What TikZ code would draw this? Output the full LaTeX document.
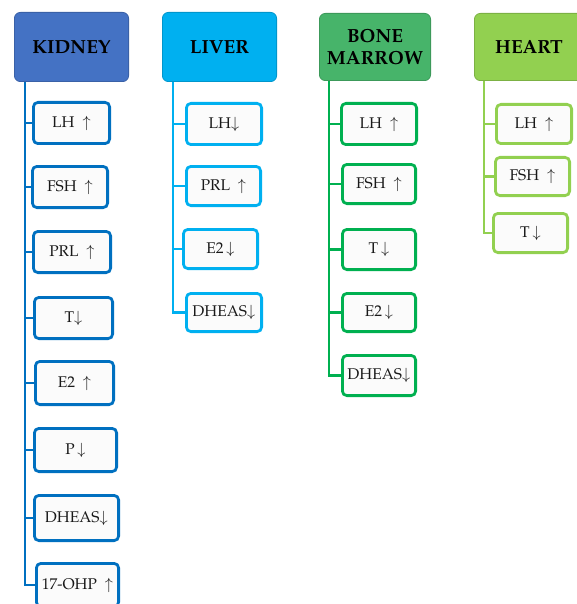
\documentclass[tikz,border=0pt]{standalone}
\usepackage[T1]{fontenc}
\usepackage{mathpazo}
\definecolor{kid}{HTML}{0070C0}
\definecolor{kidh}{HTML}{4472C4}
\definecolor{liv}{HTML}{00B0F0}
\definecolor{livh}{HTML}{00B0F0}
\definecolor{bm}{HTML}{00B050}
\definecolor{bmh}{HTML}{47B46A}
\definecolor{hrt}{HTML}{92D050}
\definecolor{hrth}{HTML}{92D050}
\definecolor{boxfill}{HTML}{FBFBFB}
\tikzset{
  hdr/.style={fill=#1, draw=#1!85!black, line width=0.8pt, rounded corners=6pt, inner sep=0pt,
    font=\fontsize{19}{22}\selectfont\bfseries, text=black, align=center},
  item/.style={draw=#1, line width=2.8pt, fill=boxfill, rounded corners=4.5pt, inner sep=0pt,
    font=\fontsize{15.5}{18}\selectfont, text=black!90},
  spine/.style={draw=#1, line width=2.8pt},
}
\newcommand{\ibox}[7]{\node[item=#2, minimum width={#4pt-#3pt-2.8pt}, minimum height={#6pt-#5pt-2.8pt}] (#1) at ({(#3+#4)/2},{(#5+#6)/2}) {#7};}
\newcommand{\hdrbox}[7]{\node[hdr=#2, minimum width={#4pt-#3pt-0.8pt}, minimum height={#6pt-#5pt-0.8pt}] (#1) at ({(#3+#4)/2},{(#5+#6)/2}) {#7};}
\begin{document}
\begin{tikzpicture}[x=1pt,y=-1pt]
\useasboundingbox (0,0) rectangle (577,604);
\clip (0,0) rectangle (577,604);
% headers
\hdrbox{kh}{kidh}{14}{129}{12}{82}{KIDNEY}
\hdrbox{lh}{livh}{162}{277}{12}{82}{LIVER}
\hdrbox{bh}{bmh}{319}{431}{13}{81}{BONE\\MARROW}
\hdrbox{hh}{hrth}{474}{584}{13}{81}{HEART}
% kidney
\ibox{k1}{kid}{32}{111}{101}{145}{LH\ \ $\uparrow$}
\ibox{k2}{kid}{31}{109}{165}{209}{FSH\ \ $\uparrow$}
\ibox{k3}{kid}{32}{112}{230}{274}{PRL\ \ $\uparrow$}
\ibox{k4}{kid}{33}{114}{296}{340}{T$\downarrow$}
\ibox{k5}{kid}{34}{115}{360}{406}{E2\ \ $\uparrow$}
\ibox{k6}{kid}{33}{118}{427}{473}{P\,$\downarrow$}
\ibox{k7}{kid}{33}{120}{494}{542}{DHEAS$\downarrow$}
\ibox{k8}{kid}{35}{120}{562}{608}{17-OHP\ \ $\uparrow$}
% liver
\ibox{l1}{liv}{185}{263}{102}{146}{LH$\downarrow$}
\ibox{l2}{liv}{185}{262}{165}{207}{PRL\ \ $\uparrow$}
\ibox{l3}{liv}{182}{259}{228}{270}{E2\,$\downarrow$}
\ibox{l4}{liv}{185}{263}{292}{333}{DHEAS$\downarrow$}
% bone marrow
\ibox{b1}{bm}{340}{418}{102}{146}{LH\ \ $\uparrow$}
\ibox{b2}{bm}{341}{417}{163}{205}{FSH\ \ $\uparrow$}
\ibox{b3}{bm}{341}{417}{228}{271}{T\,$\downarrow$}
\ibox{b4}{bm}{341}{417}{292}{333}{E2\,$\downarrow$}
\ibox{b5}{bm}{341}{417}{354}{397}{DHEAS$\downarrow$}
% heart
\ibox{h1}{hrt}{495}{573}{103}{145}{LH\ \ $\uparrow$}
\ibox{h2}{hrt}{494}{571}{156}{197}{FSH\ \ $\uparrow$}
\ibox{h3}{hrt}{492}{569}{212}{254}{T\,$\downarrow$}
% spines
\coordinate (ks) at (25,82);
\coordinate (ls) at (173,82);
\coordinate (bs) at (329,81);
\coordinate (hs) at (484,81);
\draw[spine=kid] (ks) |- (k8.west);
\foreach \n in {k1,k2,k3,k4,k5,k6,k7} \draw[spine=kid] (\n.west) -- (\n.west -| ks);
\draw[spine=liv] (ls) |- (l4.west);
\foreach \n in {l1,l2,l3} \draw[spine=liv] (\n.west) -- (\n.west -| ls);
\draw[spine=bm] (bs) |- (b5.west);
\foreach \n in {b1,b2,b3,b4} \draw[spine=bm] (\n.west) -- (\n.west -| bs);
\draw[spine=hrt] (hs) |- (h3.west);
\foreach \n in {h1,h2} \draw[spine=hrt] (\n.west) -- (\n.west -| hs);
\end{tikzpicture}
\end{document}
